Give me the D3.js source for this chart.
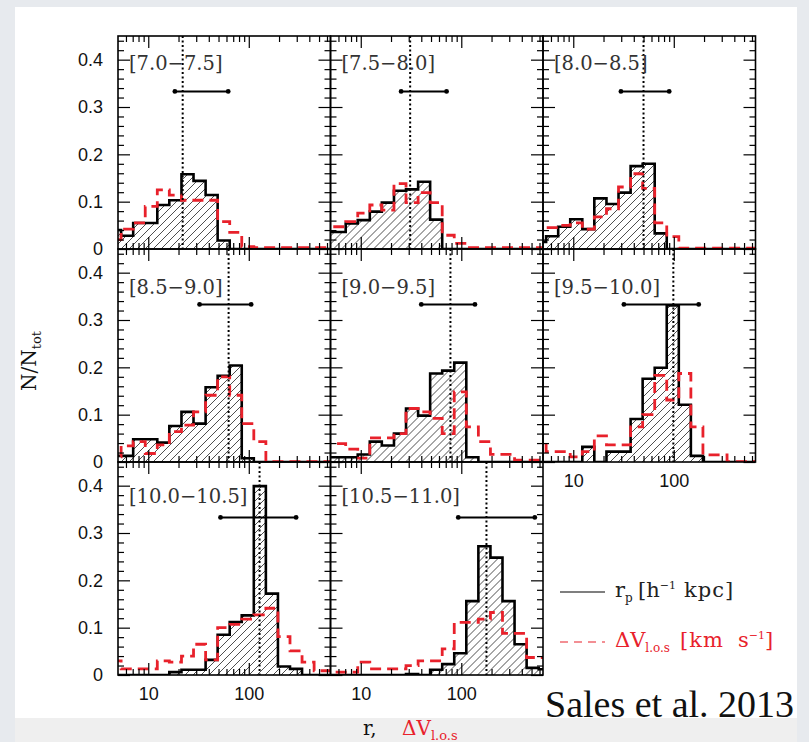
<!DOCTYPE html>
<html>
<head>
<meta charset="utf-8">
<script src="https://cdn.jsdelivr.net/npm/d3@7"></script>
<style>
  body { margin: 0; background: #e7eaee; }
  svg { display: block; }
  .ticklabel text { font-family: "Liberation Sans", Arial, sans-serif; font-size: 18px; fill: #111; }
</style>
</head>
<body>
<svg id="chart"></svg>
<script>
const width = 809, height = 742;

// Stellar mass bins, one per panel
const massBins = ["[7.0\u22127.5]", "[7.5\u22128.0]", "[8.0\u22128.5]", "[8.5\u22129.0]",
                  "[9.0\u22129.5]", "[9.5\u221210.0]", "[10.0\u221210.5]", "[10.5\u221211.0]"];

// Histogram bin edges (shared by r_p and dV)
const binEdges = [4.07, 5.37, 7.08, 9.33, 12.3, 16.2, 21.4, 28.2, 37.2, 49.0,
                  64.6, 85.1, 112.2, 147.9, 195.0, 257.0, 338.8, 446.7, 588.8, 776.2];

// r_p histograms (black, hatched)
const rp70  = [0.040, 0.028, 0.055, 0.055, 0.093, 0.103, 0.158, 0.144, 0.114, 0.018, 0, 0, 0, 0, 0, 0, 0, 0, 0];
const rp75  = [0.036, 0.036, 0.054, 0.061, 0.079, 0.098, 0.123, 0.126, 0.142, 0.062, 0, 0, 0, 0, 0, 0, 0, 0, 0];
const rp80  = [0.015, 0.027, 0.047, 0.063, 0.042, 0.107, 0.095, 0.119, 0.175, 0.180, 0.033, 0, 0, 0, 0, 0, 0, 0, 0];
const rp85  = [0.013, 0.013, 0.048, 0.048, 0.041, 0.076, 0.106, 0.081, 0.158, 0.182, 0.204, 0.008, 0, 0, 0, 0, 0, 0, 0];
const rp90  = [0.010, 0.010, 0.010, 0.016, 0.043, 0.035, 0.060, 0.113, 0.098, 0.187, 0.193, 0.210, 0.010, 0, 0, 0, 0, 0, 0];
const rp95  = [0, 0, 0, 0, 0.032, 0, 0.022, 0.022, 0.091, 0.176, 0.199, 0.331, 0.121, 0.013, 0, 0, 0, 0, 0];
const rp100 = [0, 0, 0, 0, 0, 0.006, 0.011, 0.011, 0.032, 0.085, 0.112, 0.126, 0.399, 0.172, 0.018, 0.013, 0, 0, 0];
const rp105 = [0, 0, 0, 0, 0, 0, 0, 0.002, 0, 0.011, 0.023, 0.046, 0.156, 0.272, 0.248, 0.156, 0.065, 0.015, 0.012];

// dV_l.o.s histograms (red, dashed)
const dv70  = [0.020, 0.042, 0.055, 0.090, 0.125, 0.114, 0.103, 0.103, 0.103, 0.058, 0.035, 0.005, 0.003, 0.003, 0.003, 0.003, 0.003, 0.003, 0.003];
const dv75  = [0.047, 0.047, 0.058, 0.076, 0.093, 0.082, 0.138, 0.098, 0.119, 0.098, 0.029, 0.012, 0.003, 0.003, 0.003, 0.003, 0.003, 0.003, 0.003];
const dv80  = [0.040, 0.045, 0.050, 0.055, 0.042, 0.068, 0.085, 0.131, 0.159, 0.128, 0.055, 0.026, 0.002, 0.002, 0.002, 0.002, 0.002, 0.002, 0.002];
const dv85  = [0.011, 0.034, 0.043, 0.018, 0.036, 0.064, 0.078, 0.106, 0.141, 0.180, 0.141, 0.081, 0.043, 0.001, 0.001, 0.001, 0.001, 0.001, 0.001];
const dv90  = [0.039, 0.039, 0.027, 0.008, 0.051, 0.051, 0.060, 0.113, 0.106, 0.092, 0.060, 0.148, 0.074, 0.043, 0.016, 0.016, 0.004, 0.004, 0.004];
const dv95  = [0.043, 0.022, 0.022, 0.011, 0.022, 0.055, 0.036, 0.036, 0.074, 0.100, 0.183, 0.131, 0.187, 0.074, 0.015, 0.015, 0.001, 0.001, 0.001];
const dv100 = [0.030, 0.013, 0.013, 0.013, 0.030, 0.027, 0.040, 0.065, 0.032, 0.100, 0.107, 0.118, 0.127, 0.141, 0.081, 0.051, 0.027, 0.009, 0.009];
const dv105 = [0.006, 0.006, 0.006, 0.027, 0.013, 0.013, 0.013, 0.020, 0.030, 0.030, 0.055, 0.111, 0.111, 0.118, 0.132, 0.088, 0.088, 0.037, 0.037];

// Median r_p (dotted line) and spread (error bar)
const rpMedian = [22, 31, 50, 63, 78, 99, 128, 178];
const rpLow    = [18.4, 25.2, 29.8, 32.4, 40, 31.9, 52.3, 93.3];
const rpHigh   = [62.4, 71.4, 90, 105.6, 136.8, 177, 295.6, 539];
const errLevel = 0.333;

// Axis ticks
const xMajorTicks = [10, 100];
const xMinorTicks = [6, 7, 8, 9, 20, 30, 40, 50, 60, 70, 80, 90, 200, 300, 400, 500, 600];
const yMajorTicks = [0, 0.1, 0.2, 0.3, 0.4];
const yMinorTicks = [0.02, 0.04, 0.06, 0.08, 0.12, 0.14, 0.16, 0.18, 0.22, 0.24, 0.26, 0.28, 0.32, 0.34, 0.36, 0.38, 0.42, 0.44];

const rpHists = [rp70, rp75, rp80, rp85, rp90, rp95, rp100, rp105];
const dvHists = [dv70, dv75, dv80, dv85, dv90, dv95, dv100, dv105];

// Panel layout
const panelW = 212.5, panelH = 213;
const colX = [118, 330.5, 543];
const rowY = [36, 249, 462];
const labelDy = [34, 45, 41];   // baseline of the [..] label under panel top
const red = "#e8212b";

const x = d3.scaleLog().domain([5, 650]).range([0, panelW]);
const y = d3.scaleLinear().domain([0, 0.45]).range([panelH, 0]);

const svg = d3.select("#chart").attr("width", width).attr("height", height);

// slide background: white card with grey strip at the bottom
svg.append("rect").attr("x", 15).attr("y", 7).attr("width", 782).attr("height", 711).attr("fill", "#fff");
svg.append("rect").attr("x", 15).attr("y", 718).attr("width", 782).attr("height", 24).attr("fill", "#efefef");

// hatch pattern for the r_p histograms
const defs = svg.append("defs");
defs.append("pattern")
    .attr("id", "hatch")
    .attr("patternUnits", "userSpaceOnUse")
    .attr("width", 8).attr("height", 8)
  .append("path")
    .attr("d", "M-1,1 l2,-2 M0,8 l8,-8 M7,9 l2,-2")
    .attr("stroke", "#222")
    .attr("stroke-width", 0.8);

// step outline of a histogram
function stepPoints(vals) {
    const pts = [[binEdges[0], 0]];
    vals.forEach((v, i) => {
        pts.push([binEdges[i], v]);
        pts.push([binEdges[i + 1], v]);
    });
    pts.push([binEdges[vals.length], 0]);
    return pts;
}
const line = d3.line().x(d => x(d[0])).y(d => y(d[1]));

massBins.forEach((label, i) => {
    const col = i % 3, row = Math.floor(i / 3);
    const g = svg.append("g").attr("transform", `translate(${colX[col]},${rowY[row]})`);

    defs.append("clipPath").attr("id", "clip" + i)
      .append("rect").attr("width", panelW).attr("height", panelH);

    const plot = g.append("g").attr("clip-path", `url(#clip${i})`);

    // r_p histogram: hatched fill + thick outline
    plot.append("path")
        .attr("d", line(stepPoints(rpHists[i])))
        .attr("fill", "url(#hatch)")
        .attr("stroke", "#000")
        .attr("stroke-width", 2.6);

    // dV histogram: red dashed
    plot.append("path")
        .attr("d", line(stepPoints(dvHists[i])))
        .attr("fill", "none")
        .attr("stroke", red)
        .attr("stroke-width", 2.8)
        .attr("stroke-dasharray", "11,6");

    // median as a dotted vertical line
    plot.append("line")
        .attr("x1", x(rpMedian[i])).attr("x2", x(rpMedian[i]))
        .attr("y1", 0).attr("y2", panelH)
        .attr("stroke", "#000")
        .attr("stroke-width", 2)
        .attr("stroke-dasharray", "2,2.5");

    // error bar
    plot.append("line")
        .attr("x1", x(rpLow[i])).attr("x2", x(rpHigh[i]))
        .attr("y1", y(errLevel)).attr("y2", y(errLevel))
        .attr("stroke", "#000").attr("stroke-width", 2);
    plot.selectAll(".end")
        .data([rpLow[i], rpHigh[i]])
        .enter().append("circle")
        .attr("cx", d => x(d)).attr("cy", y(errLevel)).attr("r", 2.4)
        .attr("fill", "#000");

    // inward ticks on all four sides
    const tickGroups = [
        [d3.axisBottom(x).tickValues(xMajorTicks).tickSize(-12), `translate(0,${panelH})`],
        [d3.axisBottom(x).tickValues(xMinorTicks).tickSize(-6), `translate(0,${panelH})`],
        [d3.axisTop(x).tickValues(xMajorTicks).tickSize(-12), "translate(0,0)"],
        [d3.axisTop(x).tickValues(xMinorTicks).tickSize(-6), "translate(0,0)"],
        [d3.axisLeft(y).tickValues(yMajorTicks).tickSize(-12), "translate(0,0)"],
        [d3.axisLeft(y).tickValues(yMinorTicks).tickSize(-6), "translate(0,0)"],
        [d3.axisRight(y).tickValues(yMajorTicks).tickSize(-12), `translate(${panelW},0)`],
        [d3.axisRight(y).tickValues(yMinorTicks).tickSize(-6), `translate(${panelW},0)`]
    ];
    tickGroups.forEach(([axis, tr]) => {
        const a = g.append("g").attr("transform", tr).call(axis.tickFormat(""));
        a.select(".domain").remove();
        a.selectAll("line").attr("stroke", "#000").attr("stroke-width", 1.2);
    });

    // frame
    g.append("rect")
        .attr("width", panelW).attr("height", panelH)
        .attr("fill", "none").attr("stroke", "#000").attr("stroke-width", 1.6);

    // tick labels: y on the first column, x on the lowest panel of each column
    if (col === 0) {
        const ya = g.append("g").attr("class", "ticklabel")
            .call(d3.axisLeft(y).tickValues(yMajorTicks).tickSize(0).tickPadding(15)
            .tickFormat(d => d === 0 ? "0" : d3.format(".1f")(d)));
        ya.select(".domain").remove();
    }
    if (row === 2 || i === 5) {
        const xa = g.append("g").attr("class", "ticklabel").attr("transform", `translate(0,${panelH})`)
            .call(d3.axisBottom(x).tickValues(xMajorTicks).tickSize(0).tickPadding(12).tickFormat(d3.format("d")));
        xa.select(".domain").remove();
    }

    // mass bin label
    g.append("text")
        .attr("x", 11).attr("y", labelDy[row])
        .attr("font-family", "DejaVu Serif, serif")
        .attr("font-size", 19.5)
        .attr("fill", "#333")
        .text(label);
});

// y axis title
const yTitle = svg.append("text")
    .attr("transform", "translate(36,361) rotate(-90)")
    .attr("text-anchor", "middle")
    .attr("font-family", "DejaVu Serif, serif")
    .attr("font-size", 20)
    .attr("fill", "#111");
yTitle.append("tspan").text("N/N");
yTitle.append("tspan").attr("font-size", 13).attr("dy", 5).text("tot");

// x axis title
const xTitle = svg.append("text")
    .attr("x", 363).attr("y", 735)
    .attr("font-family", "DejaVu Serif, serif")
    .attr("font-size", 20)
    .attr("fill", "#111");
xTitle.append("tspan").text("r,");
xTitle.append("tspan").attr("x", 402).attr("fill", red).text("\u0394V");
xTitle.append("tspan").attr("fill", red).attr("font-size", 13).attr("dy", 5).text("l.o.s");

// legend
const legend = svg.append("g").attr("font-family", "DejaVu Serif, serif").attr("font-size", 21);
legend.append("line").attr("x1", 560).attr("x2", 605).attr("y1", 592).attr("y2", 592)
    .attr("stroke", "#000").attr("stroke-width", 1.2);
const l1 = legend.append("text").attr("x", 615).attr("y", 597).attr("fill", "#222");
l1.append("tspan").text("r");
l1.append("tspan").attr("font-size", 12).attr("dy", 5).text("p");
l1.append("tspan").attr("x", 638).attr("dy", -5).text("[h");
l1.append("tspan").attr("font-size", 11).attr("dy", -8).text("\u22121");
l1.append("tspan").attr("x", 684).attr("dy", 8).attr("letter-spacing", 1).text("kpc]");

legend.append("line").attr("x1", 560).attr("x2", 605).attr("y1", 642).attr("y2", 642)
    .attr("stroke", red).attr("stroke-width", 1.2).attr("stroke-dasharray", "8,6");
const l2 = legend.append("text").attr("x", 615).attr("y", 647).attr("fill", red);
l2.append("tspan").text("\u0394V");
l2.append("tspan").attr("font-size", 12).attr("dy", 5).text("l.o.s");
l2.append("tspan").attr("x", 680).attr("dy", -5).attr("letter-spacing", 1).text("[km");
l2.append("tspan").attr("x", 738).text("s");
l2.append("tspan").attr("font-size", 11).attr("dy", -8).text("\u22121");
l2.append("tspan").attr("dy", 8).text("]");

// citation
svg.append("text")
    .attr("x", 545).attr("y", 717)
    .attr("font-family", "Liberation Serif, serif")
    .attr("font-size", 38)
    .attr("fill", "#111")
    .text("Sales et al. 2013");
</script>
</body>
</html>
